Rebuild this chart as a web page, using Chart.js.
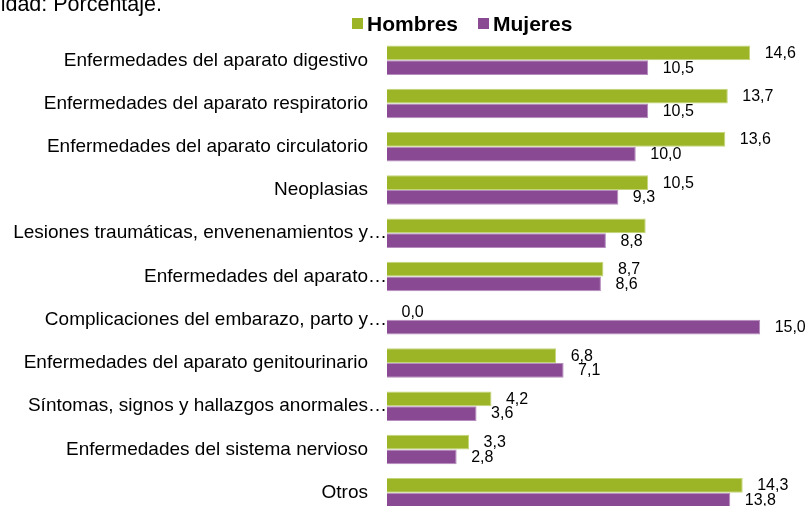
<!DOCTYPE html>
<html lang="es">
<head>
<meta charset="utf-8">
<title>Causas de hospitalización por sexo</title>
<script src="https://cdn.jsdelivr.net/npm/chart.js@4.4.1/dist/chart.umd.min.js"></script>
<style>
  html, body { margin: 0; padding: 0; background: #fff; overflow: hidden; }
  #wrap { position: relative; width: 809px; height: 520px; }
</style>
</head>
<body>
<div id="wrap"><canvas id="grafico"></canvas></div>
<script>
const categorias = [
  "Enfermedades del aparato digestivo",
  "Enfermedades del aparato respiratorio",
  "Enfermedades del aparato circulatorio",
  "Neoplasias",
  "Lesiones traumáticas, envenenamientos y…",
  "Enfermedades del aparato…",
  "Complicaciones del embarazo, parto y…",
  "Enfermedades del aparato genitourinario",
  "Síntomas, signos y hallazgos anormales…",
  "Enfermedades del sistema nervioso",
  "Otros"
];
const hombres = [14.6, 13.7, 13.6, 10.5, 10.4, 8.7, 0.0, 6.8, 4.2, 3.3, 14.3];
const mujeres = [10.5, 10.5, 10.0, 9.3, 8.8, 8.6, 15.0, 7.1, 3.6, 2.8, 13.8];
// the Lesiones bar for men carries no value label
const sinEtiqueta = { 0: [4], 1: [] };

const titulo = "Unidad: Porcentaje.";
const verde = "#9bb526";
const morado = "#8a4a93";
const FUENTE = '"Liberation Sans", Arial, sans-serif';
const PAD_ETIQ = 19;

Chart.defaults.font.family = FUENTE;
Chart.defaults.color = "#000";

const fmt = v => v.toFixed(1).replace(".", ",");

// title, legend, trailing ellipses of the category names and value labels
const extras = {
  id: "extras",
  afterDraw(chart) {
    const ctx = chart.ctx;
    ctx.save();

    ctx.fillStyle = "#000";
    ctx.font = "21.5px " + FUENTE;
    ctx.textAlign = "right";
    ctx.textBaseline = "alphabetic";
    ctx.fillText(titulo, 162, 11);

    ctx.font = "bold 21px " + FUENTE;
    ctx.textAlign = "left";
    let x = 352;
    chart.data.datasets.forEach(ds => {
      ctx.fillStyle = ds.backgroundColor;
      ctx.fillRect(x, 18, 11, 11);
      ctx.fillStyle = "#000";
      ctx.fillText(ds.label, x + 15, 30.5);
      x += 15 + ctx.measureText(ds.label).width + 20;
    });

    const ys = chart.scales.y;
    ctx.font = "19px " + FUENTE;
    ctx.textBaseline = "middle";
    categorias.forEach((c, i) => {
      if (c.endsWith("…")) {
        ctx.fillText("…", ys.right - PAD_ETIQ, ys.getPixelForTick(i));
      }
    });

    ctx.font = "16px " + FUENTE;
    chart.data.datasets.forEach((ds, d) => {
      chart.getDatasetMeta(d).data.forEach((bar, i) => {
        if (sinEtiqueta[d].includes(i)) return;
        ctx.fillText(fmt(ds.data[i]), bar.x + 14.5, bar.y + 0.5);
      });
    });

    ctx.restore();
  }
};

new Chart(document.getElementById("grafico"), {
  type: "bar",
  data: {
    labels: categorias,
    datasets: [
      {
        label: "Hombres",
        data: hombres,
        backgroundColor: verde,
        borderColor: "#c3d579",
        borderWidth: 1,
        categoryPercentage: 0.68,
        barPercentage: 1.0
      },
      {
        label: "Mujeres",
        data: mujeres,
        backgroundColor: morado,
        borderColor: "#b58cbd",
        borderWidth: 1,
        categoryPercentage: 0.68,
        barPercentage: 1.0
      }
    ]
  },
  options: {
    indexAxis: "y",
    responsive: true,
    maintainAspectRatio: false,
    animation: false,
    layout: { padding: { top: 38.7, bottom: 5.7, left: 0, right: 24 } },
    plugins: {
      legend: { display: false },
      tooltip: { enabled: false }
    },
    scales: {
      x: {
        display: false,
        min: 0,
        max: 16
      },
      y: {
        grid: { display: false, drawTicks: false },
        border: { display: false },
        ticks: {
          autoSkip: false,
          padding: PAD_ETIQ,
          color: "#000",
          font: { size: 19 },
          callback(v, i) { return categorias[i].replace(/…$/, ""); }
        },
        afterFit(scale) {
          scale.width = 387;
          // rows fill the full plot height, labels may overhang
          scale.paddingTop = 0;
          scale.paddingBottom = 0;
        }
      }
    }
  },
  plugins: [extras]
});
</script>
</body>
</html>
